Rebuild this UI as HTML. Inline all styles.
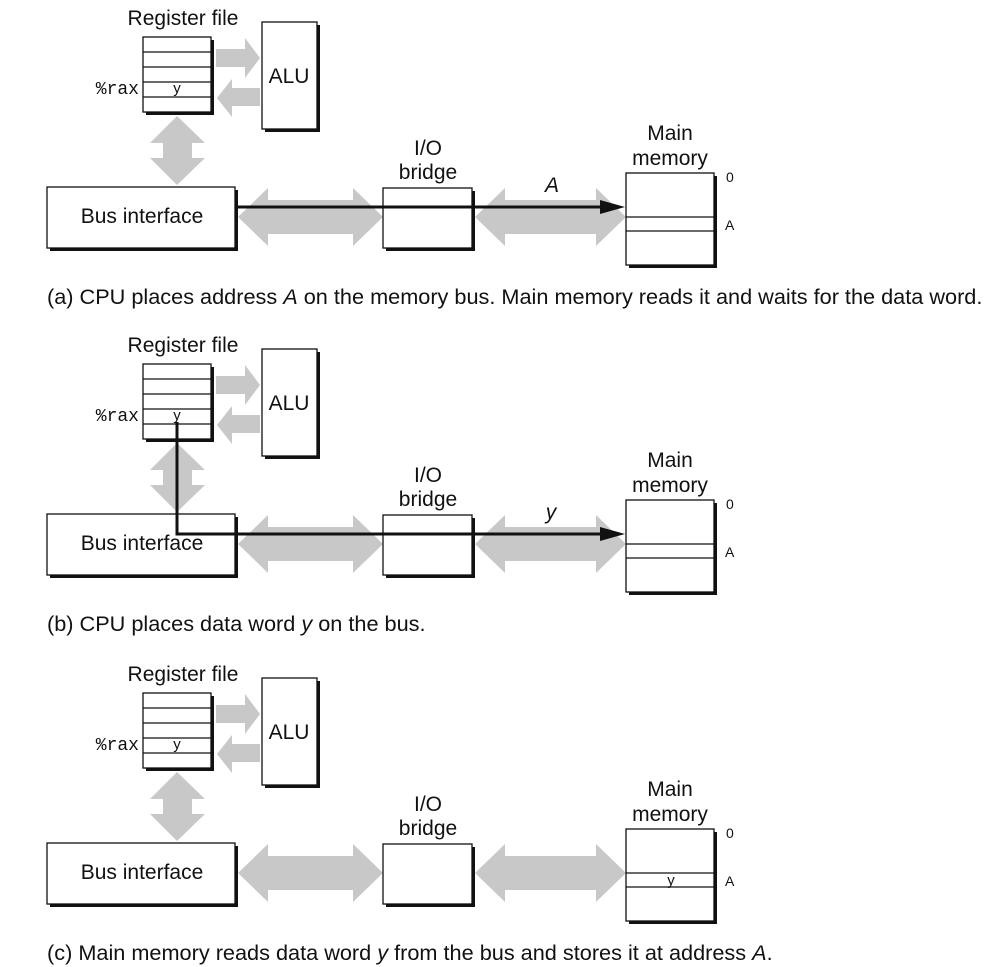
<!DOCTYPE html>
<html><head><style>
html,body{margin:0;padding:0;background:#fff;}
svg{display:block;}
text{font-family:"Liberation Sans",sans-serif;fill:#111;}
.m{font-family:"Liberation Mono",monospace;}
</style></head><body>
<svg width="1000" height="967" viewBox="0 0 1000 967" xmlns="http://www.w3.org/2000/svg">
<defs>
<g id="base">
  <text x="183" y="25" font-size="21" text-anchor="middle">Register file</text>
  <rect x="146" y="40" width="68" height="75" fill="#111"/>
  <rect x="143" y="37" width="68" height="75" fill="#fff" stroke="#111" stroke-width="1.3"/>
  <line x1="143" y1="52" x2="211" y2="52" stroke="#111" stroke-width="1.2"/>
  <line x1="143" y1="67" x2="211" y2="67" stroke="#111" stroke-width="1.2"/>
  <line x1="143" y1="82" x2="211" y2="82" stroke="#111" stroke-width="1.2"/>
  <line x1="143" y1="97" x2="211" y2="97" stroke="#111" stroke-width="1.2"/>
  <text x="139" y="94" font-size="18" text-anchor="end" class="m">%rax</text>
  <rect x="265" y="25" width="55" height="107" fill="#111"/>
  <rect x="262" y="22" width="55" height="107" fill="#fff" stroke="#111" stroke-width="1.3"/>
  <text x="289" y="83" font-size="21" text-anchor="middle">ALU</text>
  <polygon points="216,49 245,49 245,38 260,58 245,78 245,67 216,67" fill="#c8c8c8"/>
  <polygon points="260,88 232,88 232,79 217,98 232,117 232,106 260,106" fill="#c8c8c8"/>
  <polygon points="177,116 205,143 192,143 192,158 205,158 177,185 150,158 163,158 163,143 150,143" fill="#c8c8c8"/>
  <rect x="50" y="190" width="188" height="61" fill="#111"/>
  <rect x="47" y="187" width="188" height="61" fill="#fff" stroke="#111" stroke-width="1.3"/>
  <text x="142" y="223" font-size="21" text-anchor="middle">Bus interface</text>
  <polygon points="238,217 268,188 268,200 353,200 353,188 383,217 353,246 353,234 268,234 268,246" fill="#c8c8c8"/>
  <polygon points="475,217 505,188 505,200 596,200 596,188 626,217 596,246 596,234 505,234 505,246" fill="#c8c8c8"/>
  <text x="428" y="155" font-size="21" text-anchor="middle">I/O</text>
  <text x="428" y="179" font-size="21" text-anchor="middle">bridge</text>
  <rect x="386" y="191" width="89" height="60" fill="#111"/>
  <rect x="383" y="188" width="89" height="60" fill="#fff" stroke="#111" stroke-width="1.3"/>
  <text x="670" y="140" font-size="21" text-anchor="middle">Main</text>
  <text x="670" y="165" font-size="21" text-anchor="middle">memory</text>
  <rect x="629" y="176" width="88" height="92" fill="#111"/>
  <rect x="626" y="173" width="88" height="92" fill="#fff" stroke="#111" stroke-width="1.3"/>
  <line x1="626" y1="217" x2="714" y2="217" stroke="#111" stroke-width="1.2"/>
  <line x1="626" y1="231" x2="714" y2="231" stroke="#111" stroke-width="1.2"/>
  <text x="726" y="182" font-size="14">0</text>
  <text x="725" y="230" font-size="14">A</text>
</g>
</defs>

<use href="#base"/>
<text x="177" y="93" font-size="15" text-anchor="middle">y</text>
<line x1="237" y1="207" x2="602" y2="207" stroke="#111" stroke-width="3"/>
<polygon points="600,200 625,207 600,214" fill="#111"/>
<text x="552" y="192" font-size="21" font-style="italic" text-anchor="middle">A</text>
<text x="47" y="304" font-size="21.7">(a) CPU places address <tspan font-style="italic">A</tspan> on the memory bus. Main memory reads it and waits for the data word.</text>

<g transform="translate(0,327)">
<use href="#base"/>
<text x="177" y="93" font-size="15" text-anchor="middle">y</text>
<polyline points="177,95 177,207 602,207" fill="none" stroke="#111" stroke-width="3"/>
<polygon points="600,200 625,207 600,214" fill="#111"/>
<text x="551" y="192" font-size="21" font-style="italic" text-anchor="middle">y</text>
</g>
<text x="47" y="631" font-size="21.7">(b) CPU places data word <tspan font-style="italic">y</tspan> on the bus.</text>

<g transform="translate(0,656)">
<use href="#base"/>
<text x="177" y="93" font-size="15" text-anchor="middle">y</text>
<text x="671" y="229" font-size="15" text-anchor="middle">y</text>
</g>
<text x="47" y="960" font-size="21.7">(c) Main memory reads data word <tspan font-style="italic">y</tspan> from the bus and stores it at address <tspan font-style="italic">A</tspan>.</text>
</svg>
</body></html>
